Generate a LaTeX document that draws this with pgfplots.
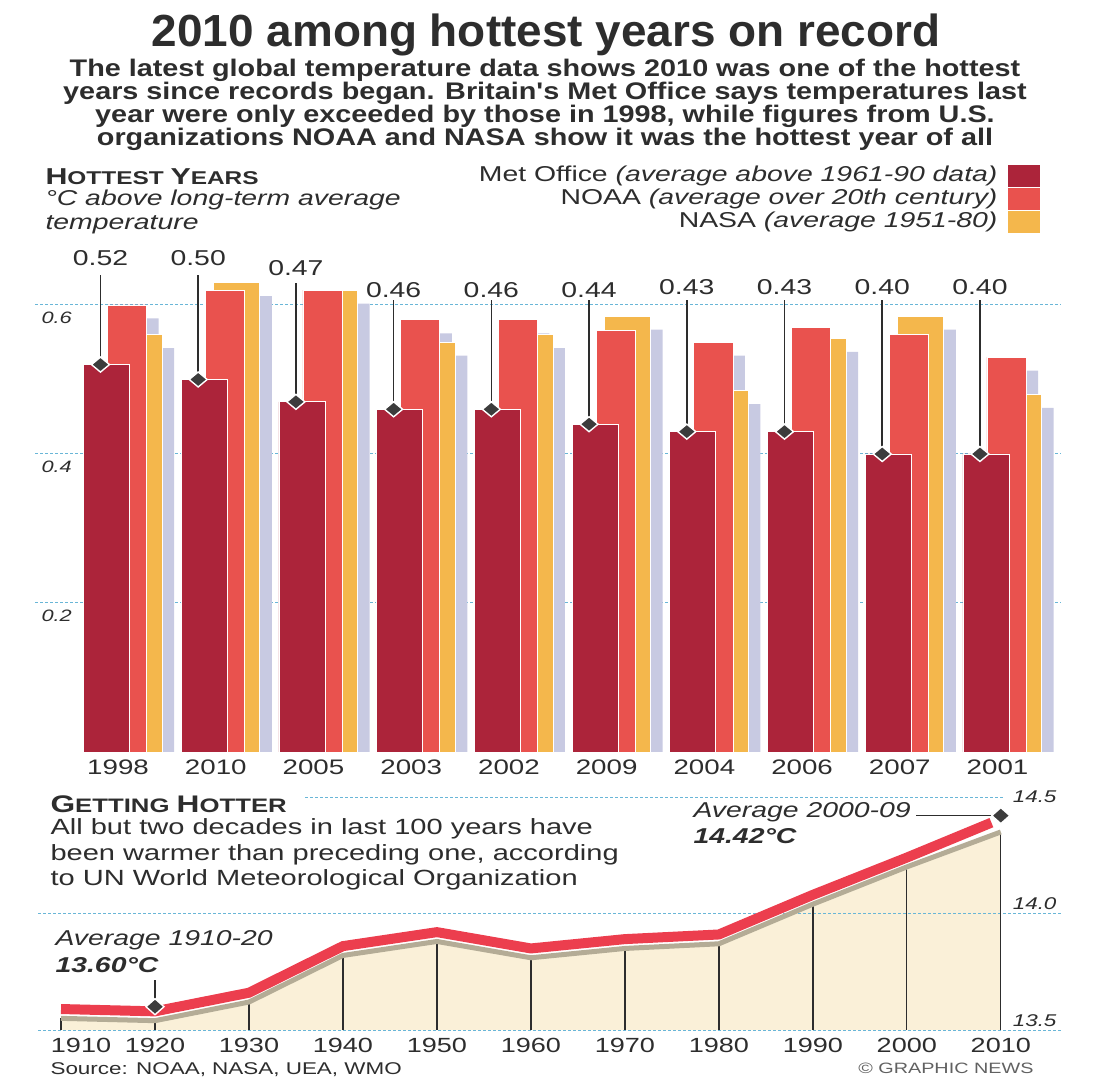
\documentclass[border=0pt]{standalone}
\usepackage{fontspec}
\setmainfont{Liberation Sans}[FakeStretch=1.32]
\newfontfamily\titlefont{Liberation Sans}[FakeStretch=1.02]
\newfontfamily\subfont{Liberation Sans}[FakeStretch=1.2]
\usepackage{pgfplots}
\pgfplotsset{compat=1.18}

\definecolor{metred}{RGB}{172,36,58}
\definecolor{noaared}{RGB}{233,82,78}
\definecolor{nasaor}{RGB}{244,183,76}
\definecolor{shadowc}{RGB}{200,202,226}
\definecolor{gridblue}{RGB}{105,182,215}
\definecolor{txt}{RGB}{45,45,45}
\definecolor{linered}{RGB}{236,62,78}
\definecolor{bandgrey}{RGB}{180,172,150}
\definecolor{beige}{RGB}{250,240,216}
\definecolor{dia}{RGB}{60,60,60}

\newcommand{\fs}[1]{\fontsize{#1}{#1}\selectfont}

\begin{document}
\begin{tikzpicture}[x=1pt,y=1pt]
\useasboundingbox (0,0) rectangle (1094,1079);

% title block
\node[txt, inner sep=0pt] at (546,1044) {\titlefont\bfseries\fs{45}2010 among hottest years on record};
\node[txt, inner sep=0pt] at (545,1009) {\subfont\bfseries\fs{24}The latest global temperature data shows 2010 was one of the hottest};
\node[txt, inner sep=0pt] at (545,986) {\subfont\bfseries\fs{24}years since records began. Britain's Met Office says temperatures last};
\node[txt, inner sep=0pt] at (545,963) {\subfont\bfseries\fs{24}year were only exceeded by those in 1998, while figures from U.S.};
\node[txt, inner sep=0pt] at (545,940) {\subfont\bfseries\fs{24}organizations NOAA and NASA show it was the hottest year of all};

\node[txt, anchor=west] at (42,902) {\bfseries\fs{23}H\fs{18.5}OTTEST \fs{23}Y\fs{18.5}EARS};
\node[txt, anchor=west] at (42,879) {\itshape\fs{21.5}°C above long-term average};
\node[txt, anchor=west] at (42,854) {\itshape\fs{21.5}temperature};

% legend
\node[txt, anchor=east] at (1001,903) {\fs{21.5}Met Office \itshape(average above 1961-90 data)};
\node[txt, anchor=east] at (1001,880) {\fs{21.5}NOAA \itshape(average over 20th century)};
\node[txt, anchor=east] at (1001,857) {\fs{21.5}NASA \itshape(average 1951-80)};
\fill[metred] (1008,892) rectangle (1040,914);
\fill[noaared] (1008,869) rectangle (1040,891);
\fill[nasaor] (1008,846) rectangle (1040,868);

\begin{axis}[
    at={(35pt,327pt)}, anchor=south west,
    scale only axis, width=1025pt, height=521.5pt,
    xmin=-0.85, xmax=9.64, ymin=0, ymax=0.7,
    clip=false,
    axis line style={draw=none},
    tick style={draw=none},
    xtick={0,...,9},
    xticklabels={1998,2010,2005,2003,2002,2009,2004,2006,2007,2001},
    xticklabel style={font=\fs{21}, text=txt, yshift=-4pt},
    ytick={0.2,0.4,0.6},
    yticklabels={0.2,0.4,0.6},
    yticklabel style={font=\itshape\fs{16.5}, text=txt, anchor=north west, xshift=3pt, yshift=-3pt},
    ymajorgrids,
    grid style={gridblue, densely dashed, line width=1pt},
    unbounded coords=jump,
]
% drop shadows (NOAA, NASA)
\addplot[ybar, bar width=0.40, bar shift=0.215, fill=shadowc, draw=none] coordinates {
    (0,0.582)(1,0.602)(2,0.602)(3,0.562)(4,0.562)(5,0.548)(6,0.532)(7,0.552)(8,0.542)(9,0.512)};
\addplot[ybar, bar width=0.471, bar shift=0.338, fill=shadowc, draw=none] coordinates {
    (0,0.542)(1,0.612)(2,0.602)(3,0.532)(4,0.542)(5,0.567)(6,0.467)(7,0.537)(8,0.567)(9,0.462)};
% NASA
\addplot[ybar, bar width=0.471, bar shift=0.215, fill=nasaor, draw=white, line width=0.8pt] coordinates {
    (0,0.56)(1,0.63)(2,0.62)(3,0.55)(4,0.56)(5,0.585)(6,0.485)(7,0.555)(8,0.585)(9,0.48)};
% NOAA
\addplot[ybar, bar width=0.40, bar shift=0.092, fill=noaared, draw=white, line width=0.8pt] coordinates {
    (0,0.60)(1,0.62)(2,0.62)(3,0.58)(4,0.58)(5,0.566)(6,0.55)(7,0.57)(8,0.56)(9,0.53)};
% Met Office
\addplot[ybar, bar width=0.471, bar shift=-0.118, fill=metred, draw=white, line width=0.8pt] coordinates {
    (0,0.52)(1,0.50)(2,0.47)(3,0.46)(4,0.46)(5,0.44)(6,0.43)(7,0.43)(8,0.40)(9,0.40)};
% leader lines
\addplot[txt, line width=1.6pt] coordinates {
    (-0.18,0.52)(-0.18,0.640)(0,nan)
    (0.82,0.50)(0.82,0.640)(1,nan)
    (1.82,0.47)(1.82,0.630)(2,nan)
    (2.82,0.46)(2.82,0.607)(3,nan)
    (3.82,0.46)(3.82,0.607)(4,nan)
    (4.82,0.44)(4.82,0.607)(5,nan)
    (5.82,0.43)(5.82,0.607)(6,nan)
    (6.82,0.43)(6.82,0.607)(7,nan)
    (7.82,0.40)(7.82,0.607)(8,nan)
    (8.82,0.40)(8.82,0.607)};
\addplot[only marks, mark=diamond*, mark size=7.5pt,
    mark options={xscale=1.6, fill=dia, draw=white, line width=1.4pt}] coordinates {
    (-0.18,0.52)(0.82,0.50)(1.82,0.47)(2.82,0.46)(3.82,0.46)(4.82,0.44)(5.82,0.43)(6.82,0.43)(7.82,0.40)(8.82,0.40)};
% value labels
\addplot[draw=none, mark=none, nodes near coords, point meta=explicit symbolic,
    nodes near coords style={anchor=center, font=\fs{21.5}, text=txt}] coordinates {
    (-0.18,0.663)[0.52](0.82,0.663)[0.50](1.82,0.650)[0.47](2.82,0.620)[0.46](3.82,0.620)[0.46]
    (4.82,0.620)[0.44](5.82,0.624)[0.43](6.82,0.624)[0.43](7.82,0.624)[0.40](8.82,0.624)[0.40]};
\end{axis}

% bottom panel text
\node[txt, anchor=west] at (47,275) {\bfseries\fs{24}G\fs{19.5}ETTING \fs{24}H\fs{19.5}OTTER};
\node[txt, anchor=west] at (47,250) {\fs{22}All but two decades in last 100 years have};
\node[txt, anchor=west] at (47,224) {\fs{22}been warmer than preceding one, according};
\node[txt, anchor=west] at (47,199) {\fs{22}to UN World Meteorological Organization};

\begin{axis}[
    at={(38pt,49pt)}, anchor=south west,
    scale only axis, width=1022pt, height=233pt,
    xmin=1907.55, xmax=2016.3, ymin=13.5, ymax=14.5,
    clip=false,
    axis line style={draw=none},
    tick style={draw=none},
    xtick={1910,1920,...,2010},
    xticklabels={\hspace*{40pt}1910,1920,1930,1940,1950,1960,1970,1980,1990,2000,2010},
    xticklabel style={font=\fs{20.5}, text=txt, yshift=-5pt},
    ytick=\empty,
    unbounded coords=jump,
]
% area under the decade curve
\addplot[fill=beige, draw=none] coordinates {
    (1910,13.5)(1910,13.55)(1920,13.54)(1930,13.62)(1940,13.82)(1950,13.88)(1960,13.81)
    (1970,13.85)(1980,13.87)(1990,14.04)(2000,14.20)(2010,14.35)(2010,13.5)};
% grid lines
\addplot[gridblue, densely dashed, line width=1pt] coordinates {
    (1936,14.5)(2010.3,14.5)(2000,nan)
    (1907.55,14.0)(2016.5,14.0)(2000,nan)
    (1907.55,13.5)(2016.5,13.5)};
% decade uprights
\addplot[txt, line width=1.3pt] coordinates {
    (1910,13.5)(1910,13.55)(1915,nan)(1920,13.5)(1920,13.54)(1925,nan)
    (1930,13.5)(1930,13.62)(1935,nan)(1940,13.5)(1940,13.82)(1945,nan)
    (1950,13.5)(1950,13.88)(1955,nan)(1960,13.5)(1960,13.81)(1965,nan)
    (1970,13.5)(1970,13.85)(1975,nan)(1980,13.5)(1980,13.87)(1985,nan)
    (1990,13.5)(1990,14.04)(1995,nan)(2000,13.5)(2000,14.20)(2005,nan)
    (2010,13.5)(2010,14.35)};
% grey edge of the area
\addplot[bandgrey, line width=5pt] coordinates {
    (1910,13.55)(1920,13.54)(1930,13.62)(1940,13.82)(1950,13.88)(1960,13.81)
    (1970,13.85)(1980,13.87)(1990,14.04)(2000,14.20)(2010,14.35)};
% red decade line
\addplot[linered, line width=10pt] coordinates {
    (1910,13.59)(1920,13.58)(1930,13.66)(1940,13.86)(1950,13.92)(1960,13.85)
    (1970,13.89)(1980,13.91)(1990,14.08)(2000,14.24)(2009,14.39)};
% callout leaders
\addplot[txt, line width=1.6pt] coordinates {
    (1920,13.60)(1920,13.715)(1920,nan)(2001,14.42)(2010,14.42)};
\addplot[only marks, mark=diamond*, mark size=8pt,
    mark options={xscale=1.5, fill=dia, draw=white, line width=1.4pt}] coordinates {
    (1920,13.60)(2010,14.42)};
\node[txt, anchor=west] at (axis cs:2010.9,14.5) {\itshape\fs{17}14.5};
\node[txt, anchor=south east] at (axis cs:2016.3,14.0) {\itshape\fs{17}14.0};
\node[txt, anchor=south east] at (axis cs:2016.3,13.5) {\itshape\fs{17}13.5};
\end{axis}

\node[txt, anchor=west] at (52,139) {\itshape\fs{21.5}Average 1910-20};
\node[txt, anchor=west] at (52,114) {\bfseries\itshape\fs{21.5}13.60°C};
\node[txt, anchor=west] at (690,267) {\itshape\fs{21.5}Average 2000-09};
\node[txt, anchor=west] at (690,243) {\bfseries\itshape\fs{21.5}14.42°C};
\node[txt, anchor=west] at (47,9) {\fs{17}Source: NOAA, NASA, UEA, WMO};
\node[txt!75, anchor=east] at (1037,11) {\fs{15}© GRAPHIC NEWS};
\end{tikzpicture}
\end{document}
